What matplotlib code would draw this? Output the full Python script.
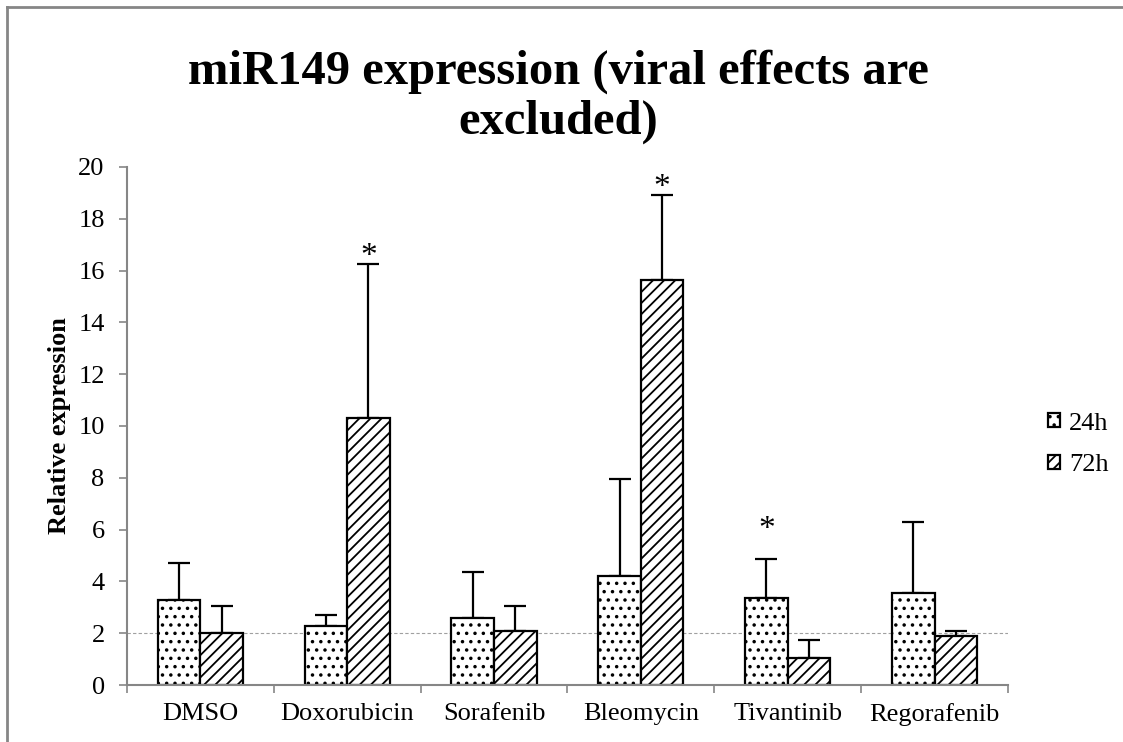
import numpy as np
import matplotlib
matplotlib.use("Agg")
import matplotlib.pyplot as plt
from matplotlib.lines import Line2D

plt.rcParams['font.family'] = ['Liberation Serif', 'DejaVu Serif']
plt.rcParams['hatch.linewidth'] = 1.3

# ---- data ----
drugs = ["DMSO", "Doxorubicin", "Sorafenib", "Bleomycin", "Tivantinib", "Regorafenib"]
expr_24h = [3.3, 2.28, 2.6, 4.22, 3.35, 3.54]
err_24h = [1.4, 0.42, 1.75, 3.73, 1.5, 2.76]
expr_72h = [2.0, 10.3, 2.1, 15.62, 1.05, 1.9]
err_72h = [1.05, 5.95, 0.96, 3.28, 0.69, 0.18]
sig_24h = [False, False, False, False, True, False]
sig_72h = [False, True, False, True, False, False]
star_gap_24h = 1.15
star_gap_72h = 0.3

GRAY = "#868686"

fig = plt.figure(figsize=(11.23, 7.42), dpi=100)
ax = fig.add_axes([0.113, 0.0768, 0.7846, 0.6982])

x = np.arange(len(drugs)) + 0.5
w = 0.29

# reference line at 2
ax.axhline(2, color="#a0a0a0", lw=0.8, ls=(0, (3, 2)), zorder=0.5)

b1 = ax.bar(x - w / 2, expr_24h, w, color="white", edgecolor="black",
            linewidth=1.6, hatch="..", label="24h", zorder=2)
b2 = ax.bar(x + w / 2, expr_72h, w, color="white", edgecolor="black",
            linewidth=1.6, hatch="///", label="72h", zorder=2)

ax.errorbar(x - w / 2, expr_24h, yerr=[np.zeros(len(drugs)), err_24h],
            fmt="none", ecolor="black", elinewidth=1.6, capsize=8,
            capthick=1.6, zorder=1.5)
ax.errorbar(x + w / 2, expr_72h, yerr=[np.zeros(len(drugs)), err_72h],
            fmt="none", ecolor="black", elinewidth=1.6, capsize=8,
            capthick=1.6, zorder=1.5)

# significance stars
for i in range(len(drugs)):
    if sig_24h[i]:
        ax.text(x[i] - w / 2, expr_24h[i] + err_24h[i] + star_gap_24h, "*",
                ha="center", va="center", fontsize=24)
    if sig_72h[i]:
        ax.text(x[i] + w / 2, expr_72h[i] + err_72h[i] + star_gap_72h, "*",
                ha="center", va="center", fontsize=24)

ax.set_xlim(0, len(drugs))
ax.set_ylim(0, 20)
ax.set_yticks(np.arange(0, 21, 2))
ax.set_xticks(x)
ax.set_xticklabels(drugs)
ax.set_xticks(np.arange(0, len(drugs) + 1), minor=True)
ax.tick_params(axis="x", which="major", length=0, labelsize=19, pad=13)
ax.tick_params(axis="x", which="minor", length=6, width=1.2, color=GRAY)
ax.tick_params(axis="y", length=6, width=1.2, color=GRAY, labelsize=19, pad=10)

for side in ["top", "right"]:
    ax.spines[side].set_visible(False)
for side in ["left", "bottom"]:
    ax.spines[side].set_color(GRAY)
    ax.spines[side].set_linewidth(1.5)

ax.set_ylabel("Relative expression", fontsize=19, fontweight="bold", labelpad=5)

fig.text(0.497, 0.870, "miR149 expression (viral effects are\nexcluded)",
         ha="center", va="center", fontsize=35, fontweight="bold",
         linespacing=1.18)

fig.legend(handles=[b1, b2], labels=["24h", "72h"], loc="center left",
           bbox_to_anchor=(0.924, 0.401), frameon=False, fontsize=19,
           handlelength=0.45, handleheight=0.45, handletextpad=0.35,
           labelspacing=0.75, borderaxespad=0)

# outer frame lines (top and left)
fig.add_artist(Line2D([7 / 1123, 7 / 1123], [0, 1 - 7 / 742],
                      transform=fig.transFigure, color=GRAY, lw=2))
fig.add_artist(Line2D([7 / 1123, 1], [1 - 7 / 742, 1 - 7 / 742],
                      transform=fig.transFigure, color=GRAY, lw=2))

fig.savefig("out.png", dpi=100)
